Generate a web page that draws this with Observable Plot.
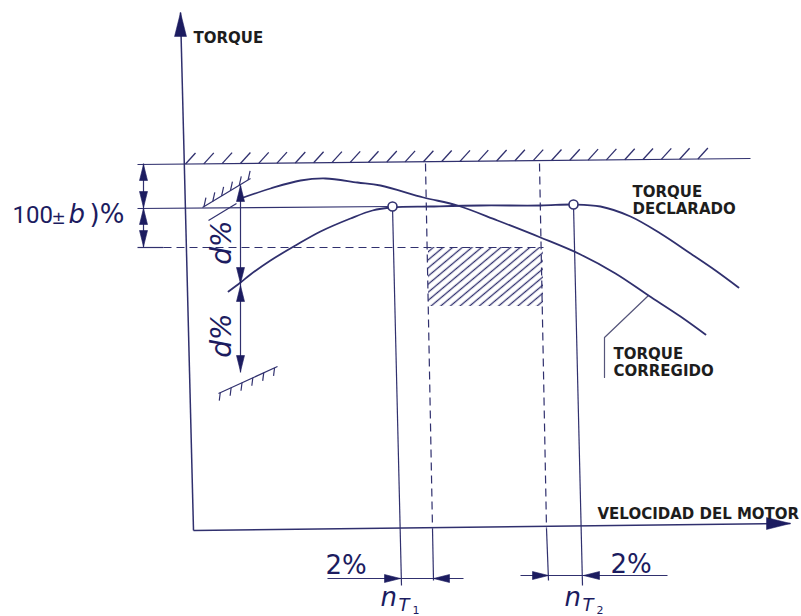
<!DOCTYPE html>
<html>
<head>
<meta charset="utf-8">
<script src="https://cdn.jsdelivr.net/npm/d3@7"></script>
<script src="https://cdn.jsdelivr.net/npm/@observablehq/plot@0.6"></script>
<style>
  html, body { margin: 0; padding: 0; background: #fff; }
  #chart svg { display: block; }
</style>
</head>
<body>
<div id="chart"></div>
<script>
// Drawing units: x = velocidad, y = torque, both measured from the axis origin.
const velDeclarado = [36, 48, 58, 78, 103, 128, 158, 180, 200, 238, 288, 348, 381, 408, 438, 468, 498, 523, 546];
const torDeclarado = [237, 246, 254, 268, 283, 297, 310, 318, 321, 322, 323, 323, 324, 322, 312, 295, 275, 258, 241];
const velCorregido = [48, 78, 108, 133, 165, 188, 231, 265, 305, 348, 388, 423, 456, 488, 513];
const torCorregido = [330, 340, 348, 350, 346, 343, 331, 323, 308, 291, 274, 255, 233, 212, 194];

// rated points n_T1, n_T2 on the declared curve
const velNT = [200, 381];
const torNT = [322, 324];

// axes [x1, y1, x2, y2]
const axisLines = [[-12, 516, 1, -2], [1, -2, 598, 5]];
const axisHeads = [[-12, 516, 0], [598, 5, 90]];

// reference / dimension lines [x1, y1, x2, y2]
const solidLines = [
  [-55, 364, 558, 370],   // upper limit (hatched)
  [-55, 320, 200, 322],   // 100 % line
  [-55, 281, -29, 281],   // lower limit start
  [-49, 365, -49, 281],   // (100 ± b)% dimension
  [48, 343, 48, 156],     // d% dimension
  [200, 322, 209, -57],   // n_T1 line
  [381, 324, 390, -57],   // n_T2 line
  [240, 0, 241, -52],     // extension 2% left
  [354, 0, 356, -52],     // extension 2% right
  [135, -50, 271, -50],   // 2% dimension left
  [328, -47, 475, -47],   // 2% dimension right
  [16, 308, 44, 325],     // small stroke near d%
  [10, 321, 58, 350],     // small ground (top)
  [26, 135, 85, 162]      // small ground (bottom)
];
const dashedLines = [
  [-29, 281, 351, 281],
  [233, 365, 240, 0],
  [347, 365, 354, 0]
];
const leaderVel = [456, 412, 412];
const leaderTor = [233, 191, 151];

// hatched window [x1, x2, y1, y2]
const hatchBox = [[236, 351, 222, 281]];

// arrow heads [x, y, angle]
const dimHeads = [
  [-49, 364, 0], [-49, 321, 180], [-49, 320, 0], [-49, 282, 180],
  [48, 343, 0], [48, 245, 180], [48, 243, 0], [48, 157, 180],
  [208, -50, 90], [241, -50, 270], [356, -47, 90], [391, -47, 270]
];

// texts
const boldLabels = [
  [1, 486, "TORQUE"],
  [405, 10, "VELOCIDAD DEL MOTOR"],
  [440, 332, "TORQUE"], [440, 315, "DECLARADO"],
  [421, 170, "TORQUE"], [421, 153, "CORREGIDO"]
];
const dimLabels = [[133, -45, "2%"], [418, -44, "2%"]];
const dLabels = [[38, 286, "d%"], [38, 193, "d%"]];
const tolLabel = ["100", "±", "b", ")%"];
const nLabels = ["n", "n"];
const tLabels = ["T", "T"];
const idxLabels = ["1", "2"];

const navy = "#30306e";
const ink = "#1c1c60";
const labelInk = "#1d1d1d";

// helpers
const seg = a => a.map(([x1, y1, x2, y2]) => ({x1, y1, x2, y2}));
const declarado = velDeclarado.map((x, i) => ({x, y: torDeclarado[i]}));
const corregido = velCorregido.map((x, i) => ({x, y: torCorregido[i]}));
const nt = velNT.map((x, i) => ({x, y: torNT[i]}));
const leader = leaderVel.map((x, i) => ({x, y: leaderTor[i]}));

// hatch strokes along the upper limit line
const [gx1, gy1, gx2, gy2] = solidLines[0];
const topHatch = d3.range(-7, 506, 18.3).map(x => {
  const y = gy1 + (x - gx1) * (gy2 - gy1) / (gx2 - gx1);
  return {x1: x, y1: y, x2: x + 10, y2: y + 11};
});
function ticksAlong([x1, y1, x2, y2], n, dx, dy) {
  return d3.range(n).map(i => {
    const t = 0.03 + i * (0.92 / (n - 1));
    const x = x1 + t * (x2 - x1), y = y1 + t * (y2 - y1);
    return {x1: x, y1: y, x2: x + dx, y2: y + dy};
  });
}
const groundTop = ticksAlong(solidLines[12], 6, 2, 9);
const groundBottom = ticksAlong(solidLines[13], 6, -1, -8);

const head = {
  draw(ctx, size) {
    const r = Math.sqrt(size / Math.PI);
    const L = 4 * r, W = 1.0 * r;
    ctx.moveTo(0, 0);
    ctx.lineTo(W, L);
    ctx.lineTo(-W, L);
    ctx.closePath();
  }
};

const txt = (extra) => Object.assign({x: d => d[0], y: d => d[1], text: d => d[2], textAnchor: "start", lineAnchor: "bottom", fill: ink}, extra);

const svg = Plot.plot({
  width: 801,
  height: 616,
  marginTop: 0, marginRight: 0, marginBottom: 0, marginLeft: 0,
  x: {domain: [-192, 609], axis: null},
  y: {domain: [-88, 528], axis: null},
  style: {background: "white"},
  marks: [
    Plot.rect(hatchBox, {x1: d => d[0], x2: d => d[1], y1: d => d[2], y2: d => d[3], fill: "url(#hatchBox)"}),
    Plot.link(seg(axisLines), {x1: "x1", y1: "y1", x2: "x2", y2: "y2", stroke: navy, strokeWidth: 1.5}),
    Plot.link(seg(solidLines), {x1: "x1", y1: "y1", x2: "x2", y2: "y2", stroke: navy, strokeWidth: 1.2}),
    Plot.link(seg(dashedLines), {x1: "x1", y1: "y1", x2: "x2", y2: "y2", stroke: navy, strokeWidth: 1.2, strokeDasharray: "8,5"}),
    Plot.link(topHatch, {x1: "x1", y1: "y1", x2: "x2", y2: "y2", stroke: navy, strokeWidth: 1.3}),
    Plot.link(groundTop, {x1: "x1", y1: "y1", x2: "x2", y2: "y2", stroke: navy, strokeWidth: 1.2}),
    Plot.link(groundBottom, {x1: "x1", y1: "y1", x2: "x2", y2: "y2", stroke: navy, strokeWidth: 1.2}),
    Plot.line(leader, {x: "x", y: "y", stroke: "#55557a", strokeWidth: 1.2}),
    Plot.line(declarado, {x: "x", y: "y", curve: "catmull-rom", stroke: navy, strokeWidth: 1.8}),
    Plot.line(corregido, {x: "x", y: "y", curve: "catmull-rom", stroke: navy, strokeWidth: 1.8}),
    Plot.dot(nt, {x: "x", y: "y", r: 4.5, fill: "white", stroke: navy, strokeWidth: 1.6}),
    Plot.dot(dimHeads, {x: d => d[0], y: d => d[1], rotate: d => d[2], symbol: head, r: 4, fill: ink, stroke: ink, strokeWidth: 0.6}),
    Plot.dot(axisHeads, {x: d => d[0], y: d => d[1], rotate: d => d[2], symbol: head, r: 6, fill: ink, stroke: ink, strokeWidth: 0.5}),
    Plot.text(boldLabels, txt({fontFamily: "DejaVu Sans", fontWeight: "bold", fontSize: 15, fill: labelInk})),
    Plot.text(dimLabels, txt({fontFamily: "DejaVu Sans", fontSize: 26})),
    Plot.text(dLabels, txt({textAnchor: "middle", rotate: -90, fontFamily: "DejaVu Sans", fontSize: 28, fontStyle: "italic"})),
    // 100 ± b)%
    Plot.text([[-180, 306, tolLabel[0]]], txt({fontFamily: "Liberation Sans Narrow, Roboto, sans-serif", fontSize: 24})),
    Plot.text([[-141, 305, tolLabel[1]]], txt({fontFamily: "DejaVu Sans", fontSize: 17})),
    Plot.text([[-124, 306, tolLabel[2]]], txt({fontFamily: "DejaVu Sans", fontStyle: "italic", fontSize: 26})),
    Plot.text([[-103, 306, tolLabel[3]]], txt({fontFamily: "DejaVu Sans", fontSize: 26})),
    // n_T1, n_T2
    Plot.text([[188, -77, nLabels[0]], [372, -77, nLabels[1]]], txt({fontFamily: "DejaVu Sans", fontStyle: "italic", fontSize: 26})),
    Plot.text([[206, -82, tLabels[0]], [390, -82, tLabels[1]]], txt({fontFamily: "DejaVu Sans", fontStyle: "italic", fontSize: 18})),
    Plot.text([[220, -85, idxLabels[0]], [404, -85, idxLabels[1]]], txt({fontFamily: "DejaVu Sans", fontSize: 11}))
  ]
});

const defs = d3.select(svg).insert("defs", ":first-child");
const pat = defs.append("pattern")
  .attr("id", "hatchBox")
  .attr("patternUnits", "userSpaceOnUse")
  .attr("width", 6.2).attr("height", 10)
  .attr("patternTransform", "rotate(50)");
pat.append("line")
  .attr("x1", 3.1).attr("y1", -1).attr("x2", 3.1).attr("y2", 11)
  .attr("stroke", navy).attr("stroke-width", 1.3);

document.getElementById("chart").appendChild(svg);
</script>
</body>
</html>
